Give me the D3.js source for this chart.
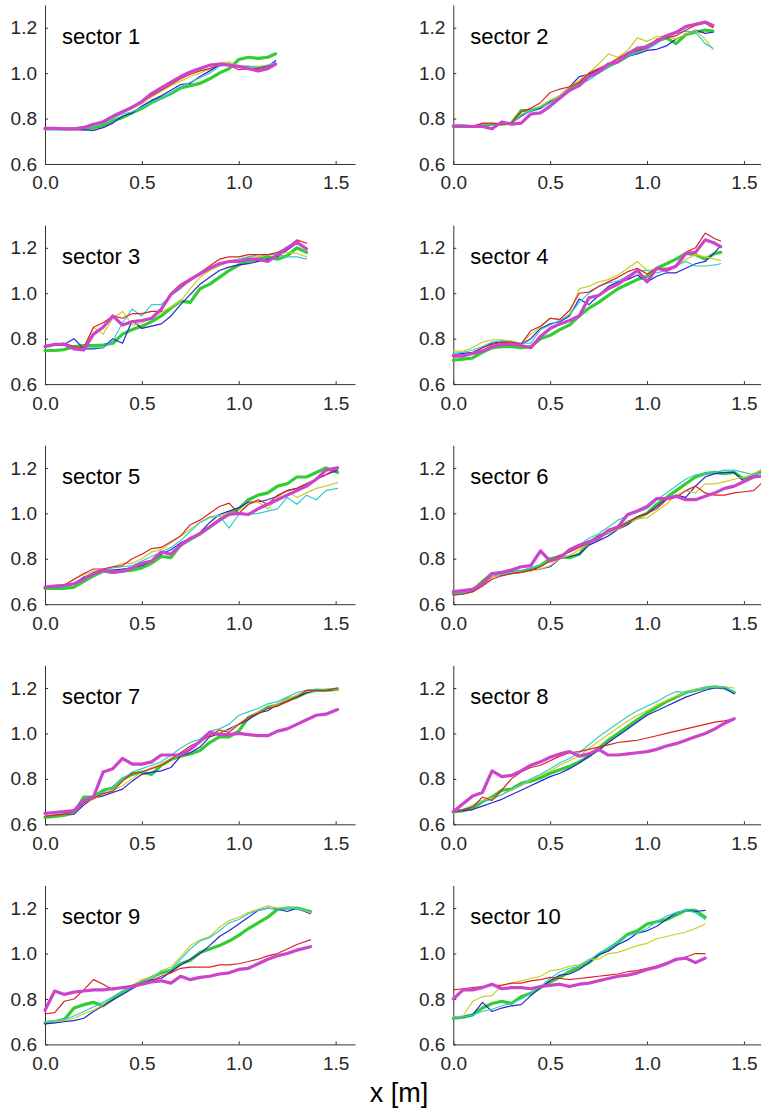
<!DOCTYPE html>
<html>
<head>
<meta charset="utf-8">
<script src="https://cdn.jsdelivr.net/npm/d3@7"></script>
<style>
  body { margin: 0; background: #fff; }
  svg { display: block; }
  .axis text { font-family: "Liberation Sans", Arial, sans-serif; font-size: 19px; fill: #262626; }
  .axis path, .axis line { stroke: #333; stroke-width: 1; }
</style>
</head>
<body>
<svg width="761" height="1110"></svg>
<script>
// x grid (m), every series value sits on it; last point of a sector goes to xEnd
var xGrid = [0,0.05,0.1,0.15,0.2,0.25,0.3,0.35,0.4,0.45,0.5,0.55,0.6,0.65,0.7,0.75,0.8,0.85,0.9,0.95,1.0,1.05,1.1,1.15,1.2,1.25,1.3,1.35,1.4,1.45,1.5,1.55,1.6];
var xEnd = [1.19, 1.34, 1.35, 1.38, 1.51, 1.6, 1.51, 1.45, 1.37, 1.3];
var sectors = ["sector 1","sector 2","sector 3","sector 4","sector 5","sector 6","sector 7","sector 8","sector 9","sector 10"];
var xTicks = [0, 0.5, 1.0, 1.5];
var yTicks = [0.6, 0.8, 1.0, 1.2];

var greenY = [
  [.755,.755,.755,.755,.755,.76,.77,.79,.805,.825,.845,.87,.89,.91,.935,.945,.955,.975,1.0,1.02,1.06,1.07,1.065,1.07,1.085],
  [.765,.765,.765,.77,.775,.775,.78,.835,.835,.85,.875,.895,.93,.955,.985,1.005,1.03,1.05,1.075,1.095,1.12,1.14,1.155,1.13,1.17,1.18,1.19,1.185],
  [.748,.748,.752,.765,.77,.77,.772,.78,.82,.84,.855,.875,.9,.935,.965,.96,1.02,1.04,1.07,1.1,1.125,1.14,1.15,1.16,1.15,1.165,1.2,1.18],
  [.705,.71,.715,.74,.76,.765,.765,.76,.765,.80,.815,.84,.86,.9,.935,.96,.99,1.02,1.04,1.06,1.075,1.11,1.13,1.15,1.175,1.17,1.15,1.175,1.18],
  [.67,.67,.67,.675,.7,.725,.745,.74,.745,.75,.76,.78,.81,.805,.86,.885,.91,.94,.97,1.0,1.02,1.06,1.08,1.09,1.12,1.13,1.16,1.16,1.18,1.2,1.18],
  [.645,.65,.66,.7,.735,.73,.74,.745,.755,.77,.8,.81,.805,.82,.87,.9,.915,.935,.96,.98,1.0,1.04,1.07,1.1,1.13,1.16,1.175,1.18,1.175,1.18,1.15,1.17,1.19],
  [.63,.635,.64,.65,.72,.72,.75,.76,.8,.82,.83,.82,.86,.885,.9,.91,.925,.96,.985,.985,1.01,1.07,1.09,1.115,1.125,1.15,1.16,1.18,1.19,1.19,1.195],
  [.655,.66,.67,.7,.72,.75,.755,.78,.79,.805,.825,.84,.855,.875,.9,.935,.97,1.0,1.03,1.06,1.09,1.115,1.14,1.16,1.18,1.19,1.2,1.205,1.2,1.18],
  [.695,.70,.71,.76,.775,.785,.77,.8,.83,.855,.875,.895,.915,.925,.955,.97,1.005,1.02,1.035,1.055,1.08,1.11,1.135,1.16,1.195,1.2,1.2,1.185],
  [.715,.72,.73,.76,.78,.79,.78,.81,.825,.85,.875,.895,.92,.94,.96,.995,1.02,1.05,1.085,1.1,1.13,1.14,1.15,1.17,1.19,1.19,1.16]
];
var blueY = [
  [.755,.755,.755,.752,.75,.748,.76,.78,.81,.825,.855,.88,.9,.925,.95,.955,.985,1.01,1.035,1.04,1.03,1.03,1.025,1.03,1.055],
  [.765,.765,.765,.775,.775,.775,.78,.81,.835,.845,.875,.9,.94,.985,.995,1.015,1.035,1.05,1.075,1.085,1.1,1.105,1.12,1.15,1.17,1.19,1.175,1.18],
  [.77,.77,.775,.80,.755,.755,.76,.80,.78,.88,.845,.855,.865,.9,.95,.995,1.04,1.07,1.1,1.115,1.125,1.13,1.14,1.15,1.16,1.19,1.22,1.2],
  [.73,.735,.74,.76,.78,.785,.78,.775,.8,.845,.865,.875,.9,.975,.95,.99,1.03,1.05,1.06,1.08,1.05,1.075,1.09,1.09,1.11,1.13,1.14,1.18,1.21],
  [.675,.677,.68,.69,.72,.735,.75,.75,.755,.76,.77,.79,.82,.84,.87,.89,.915,.96,.995,1.01,1.025,1.05,1.05,1.06,1.075,1.1,1.11,1.13,1.15,1.17,1.19],
  [.645,.645,.655,.68,.72,.73,.735,.74,.75,.755,.765,.8,.81,.82,.86,.88,.9,.93,.95,.985,1.0,1.03,1.065,1.08,1.07,1.12,1.16,1.175,1.18,1.18,1.14,1.17,1.18],
  [.635,.64,.645,.645,.685,.715,.725,.74,.755,.79,.82,.83,.835,.85,.9,.915,.94,.985,1.0,1.02,1.04,1.06,1.09,1.1,1.13,1.14,1.16,1.18,1.19,1.19,1.195],
  [.655,.66,.665,.68,.695,.71,.73,.75,.77,.79,.81,.825,.845,.87,.9,.925,.96,.99,1.02,1.05,1.08,1.1,1.12,1.14,1.16,1.175,1.19,1.2,1.2,1.175],
  [.69,.695,.7,.705,.715,.745,.77,.795,.82,.845,.87,.885,.89,.92,.95,.975,1.0,1.035,1.075,1.1,1.13,1.16,1.19,1.2,1.195,1.185,1.2,1.175],
  [.72,.72,.73,.785,.745,.76,.77,.775,.815,.85,.88,.905,.91,.93,.96,.995,1.01,1.04,1.06,1.09,1.1,1.12,1.15,1.18,1.19,1.185,1.19]
];
var yellowY = [
  [.755,.755,.755,.757,.765,.77,.785,.805,.825,.845,.865,.895,.92,.945,.965,.985,1.0,1.02,1.045,1.05,1.03,1.03,1.03,1.035,1.045],
  [.765,.765,.765,.775,.78,.775,.78,.82,.835,.855,.88,.9,.94,.97,1.0,1.04,1.085,1.07,1.1,1.155,1.14,1.16,1.165,1.15,1.17,1.19,1.15,1.105],
  [.77,.775,.775,.765,.76,.85,.82,.89,.92,.86,.87,.89,.915,.94,.965,1.02,1.07,1.1,1.12,1.14,1.15,1.16,1.16,1.17,1.17,1.18,1.175,1.16],
  [.745,.745,.76,.785,.795,.795,.79,.78,.82,.85,.89,.88,.91,1.02,1.03,1.05,1.06,1.08,1.11,1.14,1.1,1.11,1.1,1.12,1.15,1.17,1.16,1.15,1.145],
  [.675,.68,.685,.71,.73,.745,.755,.765,.78,.78,.8,.83,.84,.87,.9,.93,.96,.98,.99,1.0,1.0,1.04,1.05,1.02,1.07,1.1,1.07,1.09,1.11,1.12,1.135],
  [.64,.645,.655,.68,.72,.73,.735,.74,.745,.755,.77,.8,.815,.84,.87,.89,.915,.93,.96,.975,.98,1.01,1.04,1.08,1.1,1.09,1.13,1.13,1.14,1.15,1.16,1.17,1.2],
  [.635,.64,.645,.65,.695,.71,.735,.75,.77,.8,.83,.85,.865,.885,.91,.935,.96,.99,1.005,1.015,1.04,1.07,1.095,1.11,1.13,1.15,1.17,1.185,1.19,1.195,1.195],
  [.655,.665,.685,.705,.715,.73,.75,.77,.795,.815,.835,.86,.88,.9,.935,.965,.995,1.025,1.055,1.08,1.1,1.125,1.145,1.165,1.18,1.195,1.2,1.205,1.205,1.2],
  [.70,.70,.705,.715,.735,.75,.775,.81,.835,.86,.885,.895,.925,.94,.985,1.035,1.06,1.075,1.115,1.145,1.16,1.18,1.195,1.21,1.2,1.2,1.2,1.18],
  [.72,.725,.79,.81,.815,.86,.87,.88,.89,.9,.925,.93,.945,.95,.975,.975,1.0,1.005,1.02,1.035,1.045,1.065,1.075,1.085,1.095,1.11,1.13]
];
var cyanY = [
  [.755,.755,.755,.755,.76,.765,.78,.8,.82,.83,.85,.87,.89,.915,.94,.96,.98,1.0,1.03,1.04,1.03,1.03,1.025,1.035,1.045],
  [.765,.765,.765,.775,.775,.775,.78,.815,.835,.85,.87,.895,.93,.95,.97,1.0,1.03,1.05,1.075,1.09,1.105,1.13,1.16,1.175,1.185,1.18,1.13,1.11],
  [.77,.775,.775,.765,.76,.76,.76,.79,.87,.93,.9,.95,.95,.99,1.02,1.06,1.09,1.11,1.125,1.14,1.15,1.16,1.17,1.17,1.17,1.16,1.16,1.15],
  [.735,.74,.75,.765,.785,.79,.785,.78,.78,.84,.86,.88,.905,.96,1.0,1.03,1.045,1.055,1.075,1.1,1.1,1.09,1.1,1.12,1.14,1.12,1.12,1.125,1.13],
  [.675,.677,.68,.69,.715,.74,.75,.76,.765,.77,.79,.81,.83,.85,.88,.92,.96,.985,.99,.935,.995,.995,1.0,1.01,1.02,1.07,1.04,1.08,1.06,1.1,1.11],
  [.645,.65,.66,.69,.73,.73,.74,.745,.76,.77,.79,.81,.83,.86,.89,.91,.94,.97,.99,1.005,1.02,1.06,1.09,1.12,1.15,1.17,1.175,1.18,1.19,1.19,1.18,1.17,1.18],
  [.635,.64,.645,.655,.7,.72,.74,.765,.8,.83,.845,.86,.875,.905,.935,.96,.975,1.01,1.02,1.04,1.08,1.095,1.11,1.13,1.14,1.16,1.18,1.19,1.195,1.19,1.2],
  [.655,.665,.68,.7,.71,.73,.755,.775,.8,.82,.845,.87,.89,.915,.95,.985,1.015,1.045,1.075,1.1,1.12,1.14,1.165,1.185,1.18,1.19,1.2,1.205,1.205,1.18],
  [.70,.705,.71,.725,.745,.765,.785,.81,.835,.855,.875,.89,.92,.93,.975,1.02,1.055,1.07,1.1,1.135,1.15,1.175,1.19,1.2,1.195,1.2,1.2,1.185],
  [.72,.72,.73,.745,.755,.77,.78,.8,.825,.855,.89,.92,.935,.945,.97,1.0,1.025,1.05,1.08,1.09,1.11,1.14,1.165,1.18,1.19,1.18,1.15]
];
var redY = [
  [.755,.755,.755,.757,.765,.775,.79,.81,.83,.85,.875,.9,.925,.95,.975,.995,1.01,1.02,1.035,1.035,1.015,1.02,1.02,1.03,1.04],
  [.765,.765,.765,.78,.78,.775,.78,.83,.845,.87,.915,.93,.94,.96,1.0,1.02,1.04,1.065,1.09,1.1,1.11,1.15,1.155,1.165,1.19,1.21,1.22,1.2],
  [.77,.775,.78,.765,.76,.85,.87,.9,.89,.91,.91,.92,.92,1.0,1.04,1.065,1.09,1.12,1.15,1.16,1.16,1.17,1.17,1.17,1.18,1.2,1.235,1.22],
  [.72,.72,.735,.76,.775,.785,.785,.775,.835,.855,.89,.885,.925,1.0,1.005,1.03,1.05,1.07,1.095,1.11,1.085,1.11,1.11,1.12,1.18,1.2,1.265,1.24,1.23],
  [.675,.68,.685,.71,.735,.755,.755,.765,.77,.8,.82,.845,.85,.875,.9,.95,.97,1.0,1.03,1.045,1.0,1.04,1.06,1.04,1.08,1.1,1.11,1.13,1.15,1.17,1.2],
  [.64,.645,.655,.68,.71,.725,.735,.74,.75,.765,.79,.815,.83,.85,.87,.9,.92,.935,.96,.985,1.0,1.02,1.06,1.07,1.1,1.12,1.09,1.08,1.08,1.09,1.095,1.1,1.14],
  [.635,.64,.645,.655,.695,.715,.735,.745,.79,.825,.83,.845,.86,.885,.915,.945,.965,.99,1.015,1.005,1.04,1.07,1.09,1.11,1.12,1.14,1.16,1.19,1.19,1.19,1.2],
  [.655,.665,.675,.72,.705,.75,.8,.83,.85,.86,.88,.9,.915,.92,.93,.94,.95,.96,.965,.97,.98,.99,1.0,1.01,1.02,1.03,1.04,1.05,1.055,1.065],
  [.735,.74,.79,.8,.84,.885,.865,.84,.85,.86,.87,.88,.9,.915,.935,.94,.94,.94,.95,.95,.955,.965,.975,.99,1.0,1.02,1.04,1.06],
  [.84,.845,.85,.855,.86,.86,.87,.87,.88,.885,.895,.89,.885,.89,.895,.9,.905,.91,.92,.925,.935,.945,.96,.97,.985,1.0,1.0]
];
var magentaY = [
  [.757,.757,.755,.755,.76,.775,.785,.81,.83,.85,.875,.91,.935,.96,.985,1.005,1.02,1.035,1.04,1.035,1.03,1.02,1.01,1.02,1.04],
  [.768,.768,.765,.765,.755,.785,.775,.78,.82,.825,.855,.89,.925,.945,.985,1.005,1.04,1.05,1.085,1.11,1.115,1.14,1.165,1.18,1.205,1.215,1.225,1.21],
  [.765,.775,.775,.755,.75,.82,.85,.9,.86,.875,.88,.89,.93,.995,1.03,1.06,1.085,1.11,1.13,1.14,1.14,1.15,1.15,1.14,1.17,1.2,1.225,1.195],
  [.725,.725,.735,.745,.765,.775,.775,.77,.76,.81,.845,.865,.88,.9,.98,.99,1.02,1.04,1.07,1.1,1.05,1.11,1.1,1.12,1.175,1.18,1.235,1.22,1.205],
  [.675,.68,.683,.69,.71,.735,.75,.74,.745,.76,.78,.79,.83,.82,.86,.89,.91,.94,.97,.995,1.0,.995,1.02,1.04,1.06,1.08,1.1,1.12,1.15,1.19,1.2],
  [.655,.66,.665,.69,.735,.74,.75,.765,.77,.835,.79,.805,.84,.86,.875,.89,.925,.94,.995,1.01,1.03,1.065,1.065,1.075,1.06,1.06,1.075,1.09,1.11,1.12,1.14,1.16,1.165],
  [.648,.652,.656,.66,.705,.72,.83,.845,.89,.865,.865,.875,.905,.905,.905,.93,.965,1.005,.995,.995,1.0,.995,.99,.99,1.01,1.02,1.04,1.06,1.08,1.085,1.105],
  [.655,.69,.725,.74,.835,.81,.815,.835,.86,.875,.895,.91,.92,.9,.91,.93,.905,.905,.91,.915,.92,.93,.945,.955,.97,.985,1.0,1.02,1.045,1.065],
  [.75,.835,.82,.83,.835,.84,.84,.845,.85,.855,.865,.875,.88,.87,.9,.885,.895,.9,.91,.915,.93,.935,.955,.975,.99,1.0,1.015,1.03],
  [.80,.84,.84,.85,.865,.845,.85,.85,.845,.855,.86,.865,.855,.865,.87,.88,.89,.9,.905,.915,.93,.94,.955,.975,.98,.96,.98]
];

var series = [
  {values: greenY,   color: "#33cc33", width: 3.2},
  {values: blueY,    color: "#2424d4", width: 1.2},
  {values: yellowY,  color: "#cccc2a", width: 1.2},
  {values: cyanY,    color: "#33cccc", width: 1.2},
  {values: redY,     color: "#dd2222", width: 1.2},
  {values: magentaY, color: "#cc44cc", width: 3.2}
];

var svg = d3.select("svg"),
    plotW = 310, plotH = 159,
    colLeft = [45, 453.3],
    rowTop = 5, rowStep = 220.1;

var x = d3.scaleLinear().domain([0, 1.6]).range([0, plotW]);
var y = d3.scaleLinear().domain([0.6, 1.3]).range([plotH, 0]);

var line = d3.line()
    .x(function(d) { return x(d[0]); })
    .y(function(d) { return y(d[1]); });

sectors.forEach(function(name, i) {
    var g = svg.append("g")
        .attr("transform", "translate(" + colLeft[i % 2] + "," + (rowTop + Math.floor(i / 2) * rowStep) + ")");

    g.append("g")
        .attr("class", "axis")
        .attr("transform", "translate(0," + plotH + ")")
        .call(d3.axisBottom(x).tickValues(xTicks).tickFormat(d3.format(".1f"))
            .tickSizeInner(-3).tickSizeOuter(0).tickPadding(12));

    g.append("g")
        .attr("class", "axis")
        .call(d3.axisLeft(y).tickValues(yTicks).tickFormat(d3.format(".1f"))
            .tickSizeInner(-3).tickSizeOuter(0).tickPadding(8));

    series.forEach(function(s) {
        var vals = s.values[i];
        var pts = vals.map(function(v, j) {
            return [j === vals.length - 1 ? xEnd[i] : xGrid[j], v];
        });
        g.append("path")
            .datum(pts)
            .attr("fill", "none")
            .attr("stroke", s.color)
            .attr("stroke-width", s.width)
            .attr("stroke-linejoin", "round")
            .attr("stroke-linecap", "round")
            .attr("d", line);
    });

    g.append("text")
        .attr("x", 17)
        .attr("y", 39)
        .attr("font-family", "Liberation Sans, Arial, sans-serif")
        .attr("font-size", 22)
        .attr("fill", "#000")
        .text(name);
});

svg.append("text")
    .attr("x", 399)
    .attr("y", 1102)
    .attr("text-anchor", "middle")
    .attr("font-family", "Liberation Sans, Arial, sans-serif")
    .attr("font-size", 27)
    .attr("fill", "#000")
    .text("x [m]");
</script>
</body>
</html>
